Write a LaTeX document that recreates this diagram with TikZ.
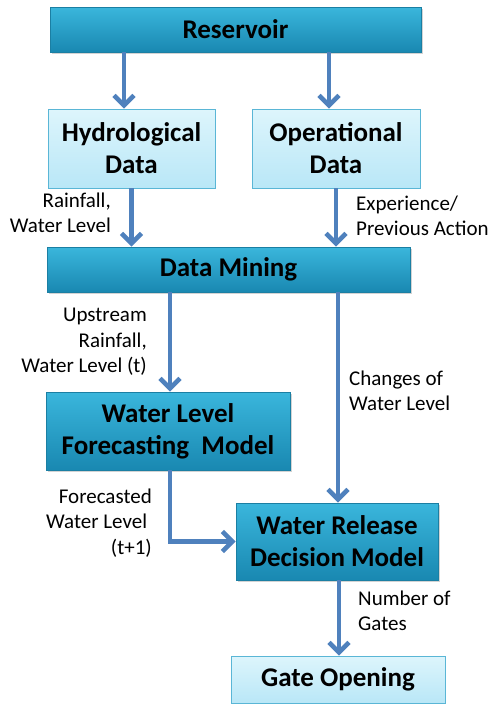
\documentclass[tikz,border=0pt]{standalone}
\usepackage{fontspec}
\setmainfont{Carlito}
\usetikzlibrary{shapes,arrows.meta,positioning,calc,shadows}
\definecolor{darktop}{HTML}{3AB6DC}
\definecolor{darkbot}{HTML}{1988B1}
\definecolor{darkline}{HTML}{1B7FA3}
\definecolor{lighttop}{HTML}{DDF5FC}
\definecolor{lightbot}{HTML}{B9E7F7}
\definecolor{lightline}{HTML}{5AB6D6}
\definecolor{arrowblue}{HTML}{4F81BD}

\begin{document}
\begin{tikzpicture}[
    x=1pt, y=-1pt,
    darkbox/.style={rectangle, draw=darkline, top color=darktop, bottom color=darkbot, line width=0.8pt,
        drop shadow={shadow xshift=2pt, shadow yshift=-2pt, opacity=0.35},
        font=\bfseries\fontsize{27}{32}\selectfont, align=center, inner sep=0pt},
    lightbox/.style={rectangle, draw=lightline, top color=lighttop, bottom color=lightbot, line width=0.8pt,
        font=\bfseries\fontsize{27}{32}\selectfont, align=center, inner sep=0pt},
    arrow/.style={-{Straight Barb[length=10pt, width=20pt]}, line width=4.5pt, arrowblue},
    lbl/.style={font=\fontsize{21}{25.5}\selectfont, inner sep=0pt}
]
\useasboundingbox (0,0) rectangle (490,704);

% Boxes
\node[darkbox, minimum width=371pt, minimum height=45pt] (reservoir) at (235.5,29.5) {Reservoir};

\node[lightbox, minimum width=167pt, minimum height=79pt] (hydro) at (131.5,148.5) {Hydrological\\Data};

\node[lightbox, minimum width=168pt, minimum height=79pt] (oper) at (336,148.5) {Operational\\Data};

\node[darkbox, minimum width=363pt, minimum height=45pt] (mining) at (228.5,269.5) {Data Mining};

\node[darkbox, minimum width=244pt, minimum height=78pt] (forecast) at (168,431) {Water Level\\Forecasting~~Model};

\node[darkbox, minimum width=202pt, minimum height=77pt] (release) at (337,541.5) {Water Release\\Decision Model};

\node[lightbox, minimum width=214pt, minimum height=47pt] (gate) at (338,679.5) {Gate Opening};

% Labels
\node[lbl, anchor=east, align=right] (rain) at (111,213) {Rainfall,\\Water Level};
\node[lbl, anchor=west, align=left] (exper) at (356,216) {Experience/\\Previous Action};
\node[lbl, anchor=east, align=right] (upstream) at (147,342) {Upstream\\Rainfall,\\Water Level (t)};
\node[lbl, anchor=west, align=left] (changes) at (349,391) {Changes of\\Water Level};
\node[lbl, anchor=east, align=right] (forecasted) at (152,523) {Forecasted\\Water Level~~\\(t+1)};
\node[lbl, anchor=west, align=left] (gates) at (358,611) {Number of\\Gates};

% Arrows
\draw[arrow] ([xshift=-7.5pt]hydro.north |- reservoir.south) -- ([xshift=-7.5pt]hydro.north);
\draw[arrow] ([xshift=-7pt]oper.north |- reservoir.south) -- ([xshift=-7pt]oper.north);
\draw[arrow] (hydro.south) -- (hydro.south |- mining.north);
\draw[arrow] (oper.south) -- (oper.south |- mining.north);
\draw[arrow] ([xshift=2pt]forecast.north |- mining.south) -- ([xshift=2pt]forecast.north);
\draw[arrow] ([xshift=1pt]release.north |- mining.south) -- ([xshift=1pt]release.north);
\draw[arrow] ([xshift=2pt]forecast.south) |- (release.west);
\draw[arrow] ([xshift=2pt]release.south) -- ([xshift=2pt]release.south |- gate.north);

\end{tikzpicture}
\end{document}
